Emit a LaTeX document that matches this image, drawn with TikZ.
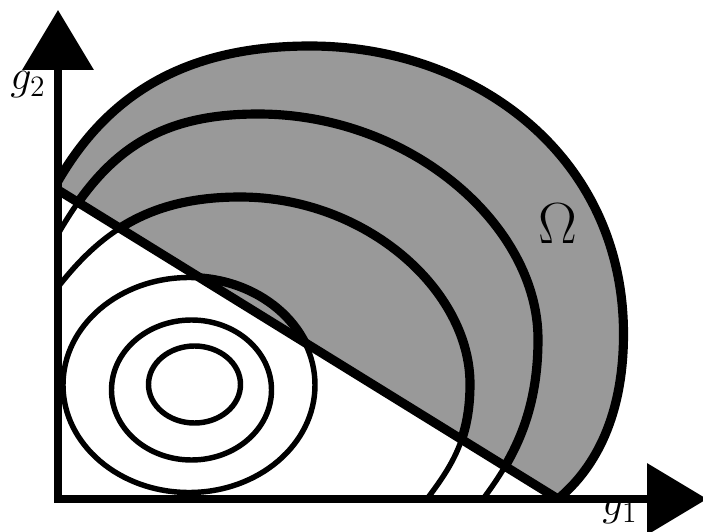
\RequirePackage{fix-cm}
\documentclass[tikz,border=0pt]{standalone}
\usepackage{amsmath}
\usepackage{tikz}
\usetikzlibrary{arrows.meta}

\definecolor{omegagray}{gray}{0.6}

% level curves that are cut by the axes
\newcommand{\arcA}{(0,4.24) .. controls (0.86,5.34) and (1.84,6.04) .. (3.64,6.04)
  .. controls (6.17,6.04) and (8.24,4.17) .. (8.24,2.3)
  .. controls (8.24,1.2) and (7.86,0.64) .. (7.38,0)}
\newcommand{\arcB}{(0,5.3) .. controls (0.95,6.95) and (2.0,7.7) .. (4.0,7.7)
  .. controls (7.08,7.7) and (9.6,5.45) .. (9.6,3.2)
  .. controls (9.6,1.7) and (9.1,0.8) .. (8.5,0)}
\newcommand{\arcOut}{(0,6.36) .. controls (0.95,8.0) and (2.44,9.06) .. (5.04,9.06)
  .. controls (8.3,9.06) and (11.31,6.9) .. (11.31,3.3)
  .. controls (11.31,1.7) and (10.77,0.64) .. (10.0,0)}

\begin{document}
\begin{tikzpicture}[
    contour/.style={line width=3.1pt},
    bold/.style={line width=5.2pt},
    axes/.style={line width=4pt, line join=miter,
      {Triangle[length=1.2cm,width=1.4cm]}-{Triangle[length=1.2cm,width=1.4cm]}},
    lbl/.style={inner sep=0pt, font=\fontsize{24}{28}\selectfont},
  ]
  \useasboundingbox (-1.16,-0.64) rectangle (12.9,9.98);

  \coordinate (O) at (0,0);
  \coordinate (ytip) at (0,9.78);
  \coordinate (xtip) at (12.98,0);
  \coordinate (cutL) at (0,6.18);
  \coordinate (cutR) at (10.0,0);

  % feasible region above the cut
  \begin{scope}
    \clip (cutL) -- (cutR) -- (13,0) -- (13,10) -- (0,10) -- cycle;
    \fill[omegagray] \arcOut -- (O) -- cycle;
  \end{scope}

  % level sets
  \foreach \cx/\cy/\rx/\ry in {2.73/2.29/0.92/0.77, 2.67/2.18/1.6/1.4, 2.62/2.28/2.52/2.15} {
    \draw[contour] (\cx,\cy) ellipse [x radius=\rx, y radius=\ry];
  }
  \draw[contour] \arcA;
  \draw[contour] \arcB;

  % the parts inside Omega are heavier
  \begin{scope}
    \clip (cutL) -- (cutR) -- (13,0) -- (13,10) -- (0,10) -- cycle;
    \draw[bold] (2.62,2.28) ellipse [x radius=2.52, y radius=2.15];
    \draw[bold] \arcA;
    \draw[bold] \arcB;
  \end{scope}
  \draw[bold] \arcOut;
  \draw[bold] (cutL) -- (cutR);

  \draw[axes] (ytip) -- (O) -- (xtip);

  \node[lbl] (ylab) at (-0.6,8.28) {$g_2$};
  \node[lbl] (xlab) at (11.24,-0.24) {$g_1$};
  \node[inner sep=0pt, font=\fontsize{33}{36}\selectfont] (omega) at (10.0,5.5) {$\Omega$};
\end{tikzpicture}
\end{document}
